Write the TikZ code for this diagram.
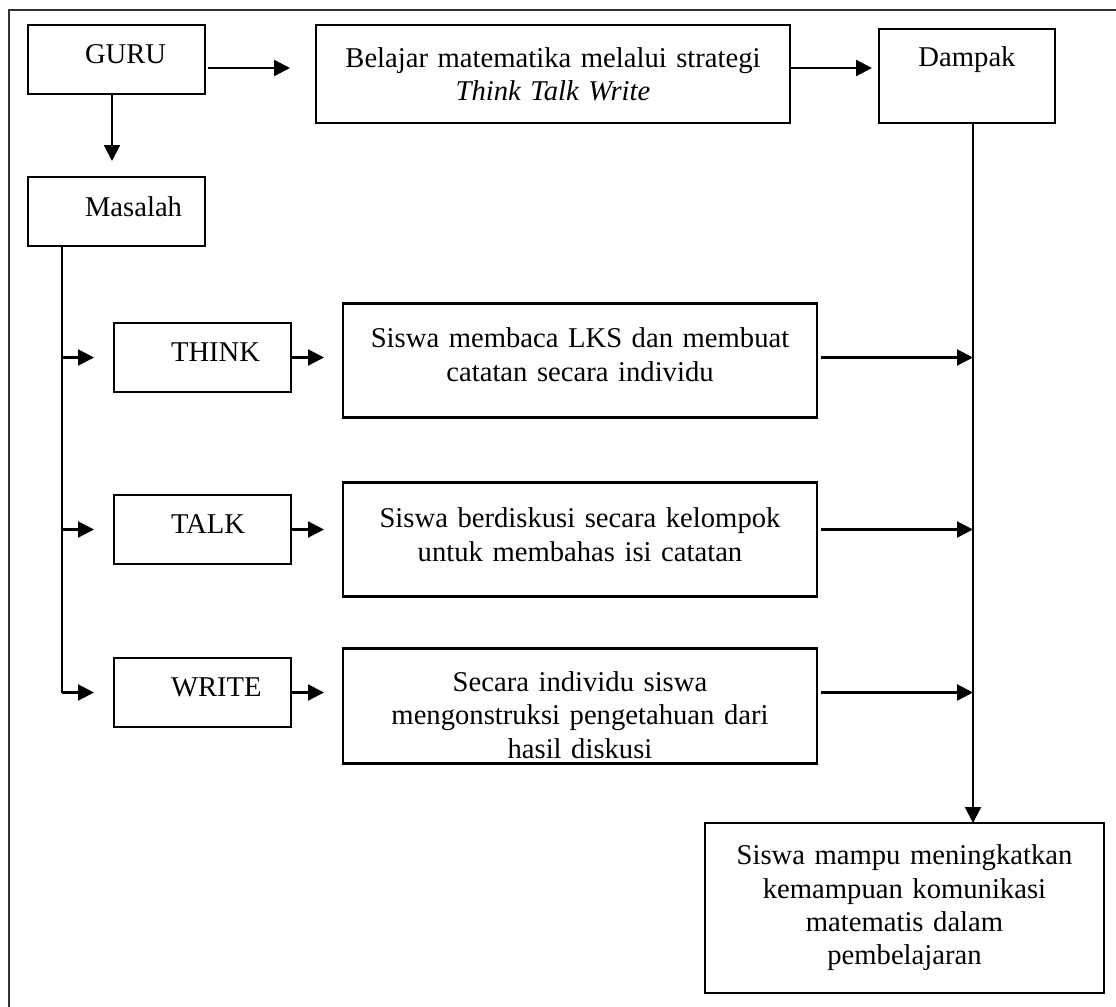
\documentclass[tikz,border=0pt]{standalone}
\usepackage{fontspec}
\setmainfont{Liberation Serif}
\usetikzlibrary{arrows.meta,positioning}

\begin{document}
\begin{tikzpicture}[
  every node/.style={font=\fontsize{16.3}{19}\selectfont},
  box/.style={rectangle,draw,line width=1.2pt,inner xsep=0pt,outer sep=0pt,align=center},
  tag/.style={box,text width=35.4mm,minimum height=13.8mm,align=left,
    text depth=2mm,execute at begin node={\hspace*{11.4mm}}},
  wide/.style={box,text width=94.8mm,minimum height=22.8mm},
  arrow/.style={-{Triangle[length=3.2mm,width=3.2mm]},line width=1.2pt},
  trunkline/.style={line width=1.2pt}
]
\useasboundingbox (0,0) rectangle (223.2mm,-201.2mm);
\clip (0,0) rectangle (223.2mm,-201.2mm);
\draw[line width=0.9pt,black!80] (1.8mm,-2mm) rectangle (240mm,-220mm);

\node[tag,anchor=north west] (guru) at (5.6mm,-5mm) {GURU};
\node[box,text width=94.8mm,minimum height=19.6mm,
  right=22.2mm of guru.north east,anchor=north west] (belajar)
  {Belajar matematika melalui strategi\\\textit{Think Talk Write}};
\node[box,text width=35.2mm,minimum height=18.8mm,text depth=7.6mm,
  below right=0.8mm and 17.8mm of belajar.north east,anchor=north west] (dampak) {Dampak};
\node[tag,below=16.6mm of guru.south west,anchor=north west] (masalah) {Masalah};

\node[tag,below right=15.4mm and 17.2mm of masalah.south west,anchor=north west] (think) {THINK};
\node[tag,below=20.6mm of think] (talk) {TALK};
\node[tag,below=18.8mm of talk] (write) {WRITE};

\node[wide,text depth=9.1mm,right=10.4mm of think,yshift=-0.6mm] (siswa1)
  {Siswa membaca LKS dan membuat\\catatan secara individu};
\node[wide,text depth=8.7mm,below=13mm of siswa1] (siswa2)
  {Siswa berdiskusi secara kelompok\\untuk membahas isi catatan};
\node[wide,minimum height=23mm,text depth=9.8mm,below=10.4mm of siswa2] (siswa3)
  {Secara individu siswa\\mengonstruksi pengetahuan dari\\hasil diskusi};

\node[box,text width=79.8mm,minimum height=34mm,below=140mm of dampak,xshift=-12.5mm] (hasil)
  {Siswa mampu meningkatkan\\kemampuan komunikasi\\matematis dalam\\pembelajaran};

\coordinate (trunk) at ([xshift=6.8mm]masalah.south west);
\coordinate (spine) at ([xshift=1.2mm]dampak.south);

% baris atas
\draw[arrow,shorten <=0.6mm,shorten >=5.2mm] ([yshift=-1.7mm]guru.east) -- ([yshift=-1.7mm]guru.east -| belajar.west);
\draw[arrow,shorten >=1.4mm] ([yshift=1.2mm]belajar.east) -- ([yshift=1.2mm]belajar.east -| dampak.west);
\draw[arrow,shorten >=3.2mm] ([xshift=-0.9mm]guru.south) -- ([xshift=-0.9mm]masalah.north);

% cabang masalah
\draw[trunkline] (trunk) -- (trunk |- write.west);
\draw[arrow,shorten >=4mm] (trunk |- think.west) -- (think.west);
\draw[arrow,shorten >=4mm] (trunk |- talk.west) -- (talk.west);
\draw[arrow,shorten >=4mm] (trunk |- write.west) -- (write.west);

\draw[arrow,shorten >=3.8mm] (think.east) -- (think.east -| siswa1.west);
\draw[arrow,shorten >=3.8mm] (talk.east) -- (talk.east -| siswa2.west);
\draw[arrow,shorten >=3.8mm] (write.east) -- (write.east -| siswa3.west);

% menuju dampak
\draw[arrow,shorten <=0.8mm] (think.east -| siswa1.east) -- (think.east -| spine);
\draw[arrow,shorten <=0.8mm] (talk.east -| siswa2.east) -- (talk.east -| spine);
\draw[arrow,shorten <=0.8mm] (write.east -| siswa3.east) -- (write.east -| spine);
\draw[arrow] (spine) -- (spine |- hasil.north);
\end{tikzpicture}
\end{document}
